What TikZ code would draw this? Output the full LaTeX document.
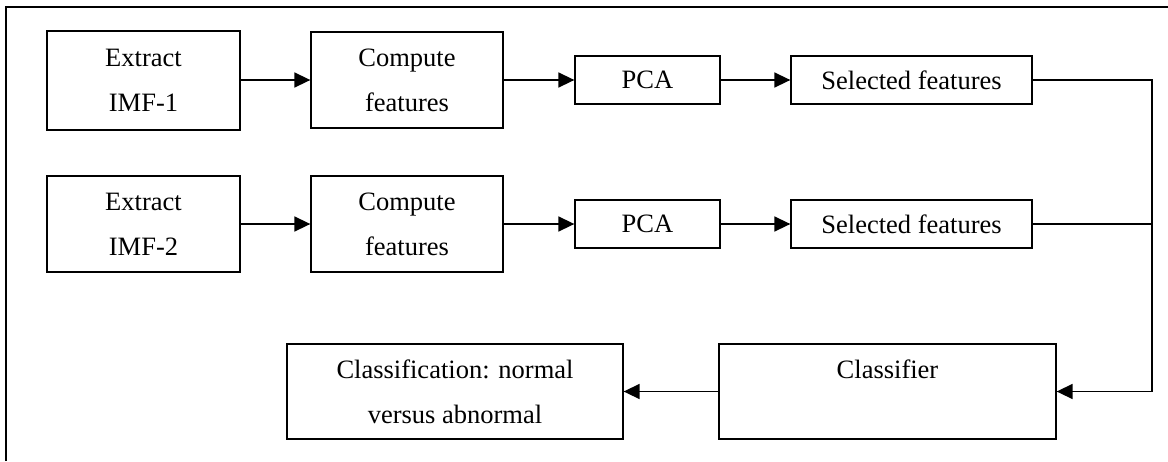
\documentclass[tikz,border=0pt]{standalone}
\usepackage{fontspec}
\setmainfont{Liberation Serif}
\usetikzlibrary{arrows.meta}
\begin{document}
\begin{tikzpicture}[x=1pt,y=-1pt,
  box/.style={draw,line width=1.3pt,inner sep=0pt,align=center,
    font=\fontsize{26.5}{45}\selectfont},
  conn/.style={line width=1.6pt,-{Triangle[length=16pt,width=15pt]}},
  line/.style={line width=1.6pt}]
\useasboundingbox (0,0) rectangle (1168,461);
\draw[line width=1.5pt] (6,461) -- (6,7) -- (1170,7);
% row 1
\node[box,minimum width=193pt,minimum height=99pt] (E1) at (143.5,80.5) {Extract\\IMF-1};
\node[box,minimum width=192pt,minimum height=96pt] (C1) at (407,80) {Compute\\features};
\node[box,minimum width=145pt,minimum height=48pt] (P1) at (647.5,80) {PCA};
\node[box,minimum width=241pt,minimum height=48pt] (S1) at (911.5,80) {Selected features};
% row 2
\node[box,minimum width=193pt,minimum height=96pt] (E2) at (143.5,224) {Extract\\IMF-2};
\node[box,minimum width=192pt,minimum height=96pt] (C2) at (407,224) {Compute\\features};
\node[box,minimum width=145pt,minimum height=48pt] (P2) at (647.5,224) {PCA};
\node[box,minimum width=241pt,minimum height=48pt] (S2) at (911.5,224) {Selected features};
% bottom row
\node[box,minimum width=336pt,minimum height=95pt] (CL) at (455,391.5) {Classification: normal\\versus abnormal};
\node[box,minimum width=337pt,minimum height=95pt] (CF) at (887.5,391.5) {Classifier\\\mbox{}};
\coordinate (j1) at (1152,80);
\coordinate (j2) at (1152,224);
% connectors
\draw[conn] (E1.east |- C1) -- (C1);
\draw[conn] (C1) -- (P1);
\draw[conn] (P1) -- (S1);
\draw[conn] (E2) -- (C2);
\draw[conn] (C2) -- (P2);
\draw[conn] (P2) -- (S2);
\draw[conn] (S1.east) -- (j1) |- (CF.east);
\draw[line] (S2.east) -- (j2);
\draw[conn] (CF) -- (CL);
\end{tikzpicture}
\end{document}
